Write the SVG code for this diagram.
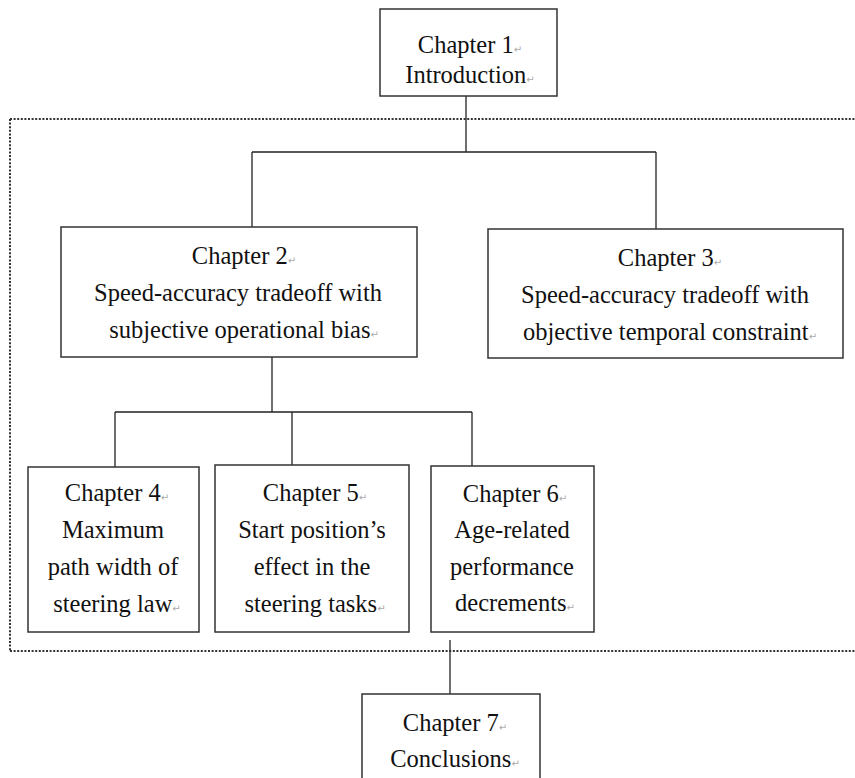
<svg xmlns="http://www.w3.org/2000/svg" width="855" height="778" viewBox="0 0 855 778">
<style>
.box{fill:#fff;stroke:#333;stroke-width:1.5}
.ln{fill:none;stroke:#222;stroke-width:1.3}
.dot{fill:none;stroke:#333;stroke-width:2;stroke-dasharray:2 1.6}
text{font-family:"Liberation Serif","Times New Roman",serif;font-size:24.5px;fill:#111;text-anchor:middle}
.rm{font-family:"DejaVu Sans",sans-serif;font-size:10px;fill:#aaa}
</style>
<rect width="855" height="778" fill="#fff"/>
<path class="dot" d="M10,119 H855 M10,119 V651 M10,651 H855"/>
<g id="connectors">
<path class="ln" d="M466,96 V152 M252,152 H656 M252,152 V228 M656,152 V229"/>
<path class="ln" d="M272,357 V412 M115,412 H472 M115,412 V467 M292,412 V465 M472,412 V466"/>
<path class="ln" d="M450,640 V694"/>
</g>
<g id="ch1">
<rect class="box" x="380" y="9" width="177" height="87"/>
<text x="470" y="53">Chapter 1<tspan class="rm">↵</tspan></text>
<text x="470" y="83">Introduction<tspan class="rm">↵</tspan></text>
</g>
<g id="ch2">
<rect class="box" x="61" y="227" width="356" height="130"/>
<text x="244" y="264">Chapter 2<tspan class="rm">↵</tspan></text>
<text x="238" y="301">Speed-accuracy tradeoff with</text>
<text x="244" y="338">subjective operational bias<tspan class="rm">↵</tspan></text>
</g>
<g id="ch3">
<rect class="box" x="488" y="229" width="355" height="129"/>
<text x="670" y="266">Chapter 3<tspan class="rm">↵</tspan></text>
<text x="665" y="303">Speed-accuracy tradeoff with</text>
<text x="670" y="340">objective temporal constraint<tspan class="rm">↵</tspan></text>
</g>
<g id="ch4">
<rect class="box" x="28" y="467" width="171" height="165"/>
<text x="117" y="501">Chapter 4<tspan class="rm">↵</tspan></text>
<text x="113" y="538">Maximum</text>
<text x="113" y="575">path width of</text>
<text x="117" y="612">steering law<tspan class="rm">↵</tspan></text>
</g>
<g id="ch5">
<rect class="box" x="215" y="465" width="194" height="167"/>
<text x="315" y="501">Chapter 5<tspan class="rm">↵</tspan></text>
<text x="312" y="538">Start position’s</text>
<text x="312" y="575">effect in the</text>
<text x="315" y="612">steering tasks<tspan class="rm">↵</tspan></text>
</g>
<g id="ch6">
<rect class="box" x="431" y="466" width="163" height="166"/>
<text x="515" y="502">Chapter 6<tspan class="rm">↵</tspan></text>
<text x="512" y="538">Age-related</text>
<text x="512" y="575">performance</text>
<text x="515" y="611">decrements<tspan class="rm">↵</tspan></text>
</g>
<g id="ch7">
<rect class="box" x="362" y="694" width="178" height="100"/>
<text x="455" y="731">Chapter 7<tspan class="rm">↵</tspan></text>
<text x="455" y="767">Conclusions<tspan class="rm">↵</tspan></text>
</g>
</svg>
